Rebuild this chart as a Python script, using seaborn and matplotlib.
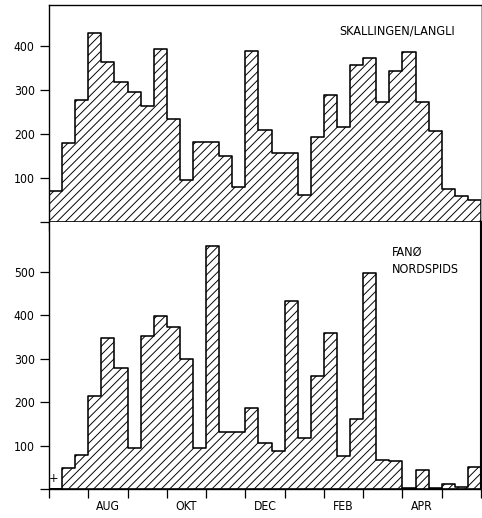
import numpy as np
import pandas as pd
import matplotlib
matplotlib.use("Agg")
import matplotlib.pyplot as plt
import seaborn as sns

# ten-day periods, Jul to May (3 per month)
months = ["JUL", "AUG", "SEP", "OKT", "NOV", "DEC", "JAN", "FEB", "MAR", "APR", "MAJ"]
shown_months = ["AUG", "OKT", "DEC", "FEB", "APR"]

skallingen = [70, 180, 278, 429, 363, 319, 295, 264, 394, 233, 96,
              181, 181, 150, 78, 389, 208, 156, 156, 61, 194, 288,
              216, 356, 374, 273, 344, 387, 272, 206, 74, 58, 49]
fanoe = [0, 48, 79, 215, 348, 279, 94, 352, 398, 374, 299,
         94, 560, 132, 132, 188, 106, 87, 433, 117, 260, 359,
         77, 161, 496, 67, 65, 4, 44, 4, 12, 5, 52]

n = len(skallingen)
df = pd.DataFrame({"period": np.arange(n) + 0.5,
                   "skallingen": skallingen, "fanoe": fanoe})

sns.set_style("ticks")
plt.rcParams["font.family"] = ["DejaVu Sans"]
plt.rcParams["font.stretch"] = "condensed"
plt.rcParams["hatch.color"] = "black"
plt.rcParams["hatch.linewidth"] = 0.9
for key in ["text.color", "xtick.color", "ytick.color", "axes.labelcolor", "axes.edgecolor"]:
    plt.rcParams[key] = "black"

dpi = 76
fig = plt.figure(figsize=(482 / dpi, 518 / dpi), dpi=dpi)
ax1 = fig.add_axes([0.1017, 0.5720, 0.8963, 0.4193])
ax2 = fig.add_axes([0.1017, 0.0554, 0.8963, 0.5166])

hist_kws = dict(binwidth=1, binrange=(0, n), element="step", fill=True,
                facecolor="white", edgecolor="black", linewidth=1.5, hatch="///")
sns.histplot(data=df, x="period", weights="skallingen", ax=ax1, **hist_kws)
sns.histplot(data=df, x="period", weights="fanoe", ax=ax2, **hist_kws)

for ax, top in [(ax1, 495), (ax2, 615)]:
    ax.set_xlim(0, n)
    ax.set_ylim(0, top)
    ax.set_xlabel("")
    ax.set_ylabel("")
    ax.set_xticks(np.arange(0, n + 1, 3))
    ax.set_xticklabels([])
    ax.tick_params(axis="both", which="major", direction="out", length=8.5,
                   width=1.2, color="black", labelsize=11.5, pad=5)
    for s in ax.spines.values():
        s.set_color("black")
        s.set_linewidth(1.3)

ax1.set_yticks([0, 100, 200, 300, 400])
ax1.set_yticklabels(["", "100", "200", "300", "400"])
ax1.spines["right"].set_linewidth(0.6)
ax1.spines["right"].set_color("#777777")

ax2.set_yticks([0, 100, 200, 300, 400, 500])
ax2.set_yticklabels(["", "100", "200", "300", "400", "500"])
ax2.spines["top"].set_visible(False)
ax2.spines["right"].set_linewidth(2.0)

label_pos = [3 * months.index(m) + 1.5 for m in shown_months]
ax2.set_xticks(label_pos, minor=True)
ax2.set_xticklabels(shown_months, minor=True)
ax2.tick_params(axis="x", which="minor", length=0, labelsize=11.5, pad=10)

ax1.text(22.2, 434, "SKALLINGEN/LANGLI", fontsize=12, va="center", ha="left")
ax2.text(26.2, 525, "FANØ\nNORDSPIDS", fontsize=12, va="center", ha="left",
         linespacing=1.35)
ax2.text(0.35, 24, "+", fontsize=12, va="center", ha="center")

fig.savefig("out.png", dpi=dpi)
